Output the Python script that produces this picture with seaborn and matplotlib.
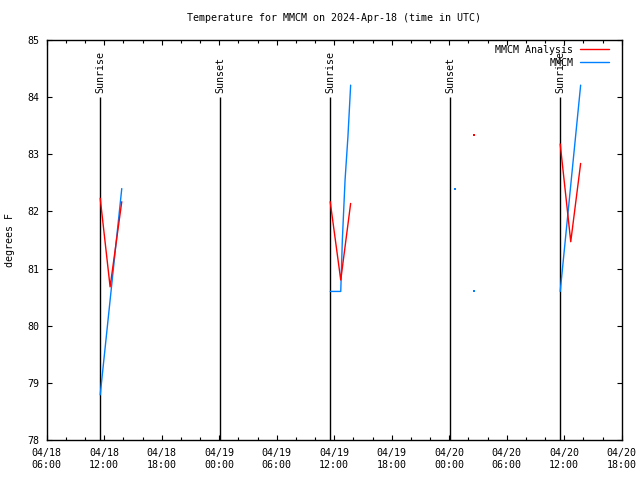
import matplotlib
matplotlib.use("Agg")
import matplotlib.pyplot as plt
import matplotlib.dates as mdates
import pandas as pd
import seaborn as sns
from matplotlib.lines import Line2D

# ---- data ----
analysis_times = ["2024-04-18 11:35", "2024-04-18 12:37", "2024-04-18 13:50",
                  "2024-04-19 11:35", "2024-04-19 12:41", "2024-04-19 13:43",
                  "2024-04-20 11:35", "2024-04-20 12:41", "2024-04-20 13:43"]
analysis_temps = [82.23, 80.68, 82.17,
                  82.17, 80.80, 82.14,
                  83.18, 81.47, 82.84]
analysis_seg = [1, 1, 1, 2, 2, 2, 3, 3, 3]
analysis_single_times = ["2024-04-20 02:37"]
analysis_single_temps = [83.34]

obs_times = ["2024-04-18 11:35", "2024-04-18 13:50",
             "2024-04-19 11:35", "2024-04-19 12:41", "2024-04-19 12:51",
             "2024-04-19 13:08", "2024-04-19 13:26", "2024-04-19 13:43",
             "2024-04-20 11:35", "2024-04-20 13:43"]
obs_temps = [78.79, 82.40,
             80.60, 80.60, 81.50, 82.55, 83.31, 84.21,
             80.60, 84.21]
obs_seg = [1, 1, 2, 2, 2, 2, 2, 2, 3, 3]
obs_single_times = ["2024-04-20 00:38", "2024-04-20 02:37"]
obs_single_temps = [82.40, 80.60]

sun_times = ["2024-04-18 11:35", "2024-04-19 00:07", "2024-04-19 11:35",
             "2024-04-20 00:05", "2024-04-20 11:35"]
sun_labels = ["Sunrise", "Sunset", "Sunrise", "Sunset", "Sunrise"]

title = "Temperature for MMCM on 2024-Apr-18 (time in UTC)"
ylabel = "degrees F"
series_names = ["MMCM Analysis", "MMCM"]
x_start, x_end = "2024-04-18 06:00", "2024-04-20 18:00"
y_min, y_max = 78, 85

# ---- frames ----
df_a = pd.DataFrame({"time": pd.to_datetime(analysis_times), "temp": analysis_temps, "seg": analysis_seg})
df_o = pd.DataFrame({"time": pd.to_datetime(obs_times), "temp": obs_temps, "seg": obs_seg})
df_as = pd.DataFrame({"time": pd.to_datetime(analysis_single_times), "temp": analysis_single_temps})
df_os = pd.DataFrame({"time": pd.to_datetime(obs_single_times), "temp": obs_single_temps})

sns.set_style("ticks")
plt.rcParams["font.family"] = ["DejaVu Sans Mono"]
plt.rcParams["font.size"] = 7.2
plt.rcParams["text.color"] = "black"
plt.rcParams["axes.labelcolor"] = "black"
plt.rcParams["xtick.color"] = "black"
plt.rcParams["ytick.color"] = "black"

fig = plt.figure(figsize=(6.4, 4.8), dpi=100)
ax = fig.add_axes([46.7 / 640, 40 / 480, 575 / 640, 400 / 480])

RED = "#ff0000"
BLUE = "#0080ff"

# sunrise / sunset lines
for t, lab in zip(sun_times, sun_labels):
    tt = pd.Timestamp(t)
    ax.vlines(tt, y_min, 84.0, color="black", lw=1.0, zorder=1)
    ax.text(tt, 84.08, lab, rotation=90, ha="center", va="bottom", fontsize=7.2,
            color="black")

sns.lineplot(data=df_a, x="time", y="temp", units="seg", estimator=None,
             color=RED, lw=1.0, ax=ax, zorder=3)
sns.lineplot(data=df_o, x="time", y="temp", units="seg", estimator=None,
             color=BLUE, lw=1.0, ax=ax, zorder=2)
sns.scatterplot(data=df_as, x="time", y="temp", color=RED, marker="s", s=1.5,
                linewidth=0, ax=ax, zorder=3)
sns.scatterplot(data=df_os, x="time", y="temp", color=BLUE, marker="s", s=1.5,
                linewidth=0, ax=ax, zorder=3)

ax.set_xlim(pd.Timestamp(x_start), pd.Timestamp(x_end))
ax.set_ylim(y_min, y_max)
ax.set_yticks(range(y_min, y_max + 1))

ax.xaxis.set_major_locator(mdates.HourLocator(byhour=[0, 6, 12, 18]))
ax.xaxis.set_major_formatter(mdates.DateFormatter("%m/%d\n%H:%M"))
ax.xaxis.set_minor_locator(mdates.HourLocator(byhour=range(0, 24, 2)))

ax.tick_params(axis="both", which="major", direction="in", length=3.5, width=0.8,
               top=True, right=True, labelsize=7.2, colors="black")
ax.tick_params(axis="x", which="major", pad=6)
ax.tick_params(axis="y", which="major", pad=5)
ax.tick_params(axis="x", which="minor", direction="in", length=2.0, width=0.8,
               top=True, bottom=True, colors="black")
for sp in ax.spines.values():
    sp.set_visible(True)
    sp.set_color("black")
    sp.set_linewidth(1.0)

ax.set_xlabel("")
ax.set_ylabel(ylabel, fontsize=7.2, labelpad=9, color="black")
ax.set_title(title, fontsize=7.2, pad=14, color="black")

handles = [Line2D([], [], color=RED, lw=1.0), Line2D([], [], color=BLUE, lw=1.0)]
ax.legend(handles, series_names, loc="upper right", frameon=False,
          markerfirst=False, handlelength=2.9, handletextpad=0.7, labelspacing=0.3,
          borderpad=0, borderaxespad=0, bbox_to_anchor=(0.9785, 0.988),
          fontsize=7.2, labelcolor="black")

fig.savefig("out.png", dpi=100)
